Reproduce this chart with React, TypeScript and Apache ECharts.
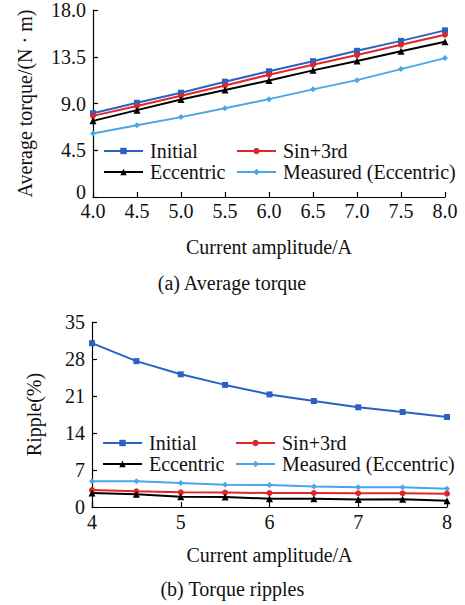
import React, { useEffect, useRef } from "react";
import * as echarts from "echarts";

const currentTop = [4.0, 4.5, 5.0, 5.5, 6.0, 6.5, 7.0, 7.5, 8.0];
const torqueInitial = [8.06, 9.07, 10.04, 11.1, 12.1, 13.07, 14.07, 15.03, 16.04];
const torqueSin3rd = [7.81, 8.75, 9.74, 10.74, 11.77, 12.73, 13.66, 14.66, 15.62];
const torqueEccentric = [7.33, 8.36, 9.39, 10.29, 11.22, 12.19, 13.09, 14.02, 14.95];
const torqueMeasured = [6.11, 6.91, 7.69, 8.55, 9.42, 10.36, 11.25, 12.31, 13.37];

const currentBottom = [4.0, 4.5, 5.0, 5.5, 6.0, 6.5, 7.0, 7.5, 8.0];
const rippleInitial = [31.0, 27.6, 25.1, 23.1, 21.3, 20.05, 18.86, 17.97, 17.03];
const rippleSin3rd = [3.2, 2.97, 2.78, 2.72, 2.65, 2.65, 2.6, 2.6, 2.52];
const rippleEccentric = [2.65, 2.4, 1.96, 1.9, 1.58, 1.58, 1.4, 1.45, 1.2];
const rippleMeasured = [4.86, 4.86, 4.54, 4.23, 4.16, 3.9, 3.72, 3.72, 3.47];

const seriesNames = ["Initial", "Sin+3rd", "Eccentric", "Measured (Eccentric)"];
const colors = ["#2a62c4", "#e0262a", "#000000", "#4aa6e6"];
const symbols = ["rect", "circle", "triangle", "diamond"];
const symbolSizes = [6, 6, 7, 6];

const FONT = "'Liberation Serif', 'Times New Roman', serif";
const FS = 20;

export default function App() {
  const ref = useRef<HTMLDivElement>(null);
  useEffect(() => {
    if (!ref.current) return;
    const chart = echarts.init(ref.current, undefined, { renderer: "svg" });
    const zip = (xs: number[], ys: number[]) => xs.map((x, i) => [x, ys[i]]);
    const topData = [torqueInitial, torqueSin3rd, torqueEccentric, torqueMeasured];
    const botData = [rippleInitial, rippleSin3rd, rippleEccentric, rippleMeasured];
    const mk = (idx: number, data: number[][], gi: number) => ({
      name: seriesNames[idx],
      type: "line",
      xAxisIndex: gi,
      yAxisIndex: gi,
      data,
      symbol: symbols[idx],
      symbolSize: symbolSizes[idx],
      showAllSymbol: true,
      lineStyle: { color: colors[idx], width: 2 },
      itemStyle: { color: colors[idx] },
      z: idx === 3 ? 2 : 3,
    });
    const series: any[] = [];
    for (let i = 0; i < 4; i++) series.push(mk(i, zip(currentTop, topData[i]), 0));
    for (let i = 0; i < 4; i++) series.push(mk(i, zip(currentBottom, botData[i]), 1));

    const axisLine = { lineStyle: { color: "#000", width: 1.2 } };
    const axisTick = { inside: true, length: 5, lineStyle: { color: "#000", width: 1.2 } };
    const lbl = { color: "#111", fontFamily: FONT, fontSize: FS, lineHeight: 14 };
    const nameStyle = { color: "#111", fontFamily: FONT, fontSize: FS };
    const legendBase = {
      orient: "vertical",
      itemWidth: 39,
      itemHeight: 8,
      itemGap: 1,
      textStyle: { color: "#111", fontFamily: FONT, fontSize: FS, lineHeight: 20, padding: [0, 0, 0, 2] },
      padding: 0,
      selectedMode: false,
    };

    chart.setOption({
      animation: false,
      backgroundColor: "#fff",
      grid: [
        { left: 93, top: 10, width: 352, height: 187, containLabel: false },
        { left: 92, top: 322, width: 355, height: 185, containLabel: false },
      ],
      xAxis: [
        {
          type: "value", gridIndex: 0, min: 4, max: 8, interval: 0.5,
          axisLine, axisTick, splitLine: { show: false },
          axisLabel: { ...lbl, margin: 7, formatter: (v: number) => v.toFixed(1) },
          name: "Current amplitude/A", nameLocation: "middle", nameGap: 40, nameTextStyle: nameStyle,
        },
        {
          type: "value", gridIndex: 1, min: 4, max: 8, interval: 1,
          axisLine, axisTick, splitLine: { show: false },
          axisLabel: { ...lbl, margin: 8 },
          name: "Current amplitude/A", nameLocation: "middle", nameGap: 38, nameTextStyle: nameStyle,
        },
      ],
      yAxis: [
        {
          type: "value", gridIndex: 0, min: 0, max: 18, interval: 4.5,
          axisLine: { show: true, ...axisLine }, axisTick: { show: true, ...axisTick }, splitLine: { show: false },
          axisLabel: {
            ...lbl, margin: 7,
            formatter: (v: number) => (v === 0 ? "{z|0}" : v.toFixed(1)),
            rich: { z: { fontFamily: FONT, fontSize: FS, color: "#111", lineHeight: 10, padding: [0, 0, 10, 0] } },
          },
          name: "Average torque/(N · m)", nameLocation: "middle", nameGap: 58, nameTextStyle: nameStyle,
        },
        {
          type: "value", gridIndex: 1, min: 0, max: 35, interval: 7,
          axisLine: { show: true, ...axisLine }, axisTick: { show: true, ...axisTick }, splitLine: { show: false },
          axisLabel: { ...lbl, margin: 7 },
          name: "Ripple(%)", nameLocation: "middle", nameGap: 48, nameTextStyle: nameStyle,
        },
      ],
      legend: [
        { ...legendBase, left: 103, top: 141, data: ["Initial", "Eccentric"] },
        { ...legendBase, left: 236, top: 141, data: ["Sin+3rd", "Measured (Eccentric)"] },
        { ...legendBase, left: 102, top: 433, data: ["Initial", "Eccentric"] },
        { ...legendBase, left: 235, top: 433, data: ["Sin+3rd", "Measured (Eccentric)"] },
      ],
      graphic: [
        {
          type: "text", left: "center", top: 273,
          style: { text: "(a) Average torque", font: `${FS}px ${FONT}`, fill: "#111" },
        },
        {
          type: "text", left: "center", top: 579,
          style: { text: "(b) Torque ripples", font: `${FS}px ${FONT}`, fill: "#111" },
        },
      ],
      series,
    });
    return () => chart.dispose();
  }, []);
  return (
    <div
      ref={ref}
      style={{ position: "fixed", left: 0, top: 0, width: 465, height: 605, background: "#fff" }}
    />
  );
}
